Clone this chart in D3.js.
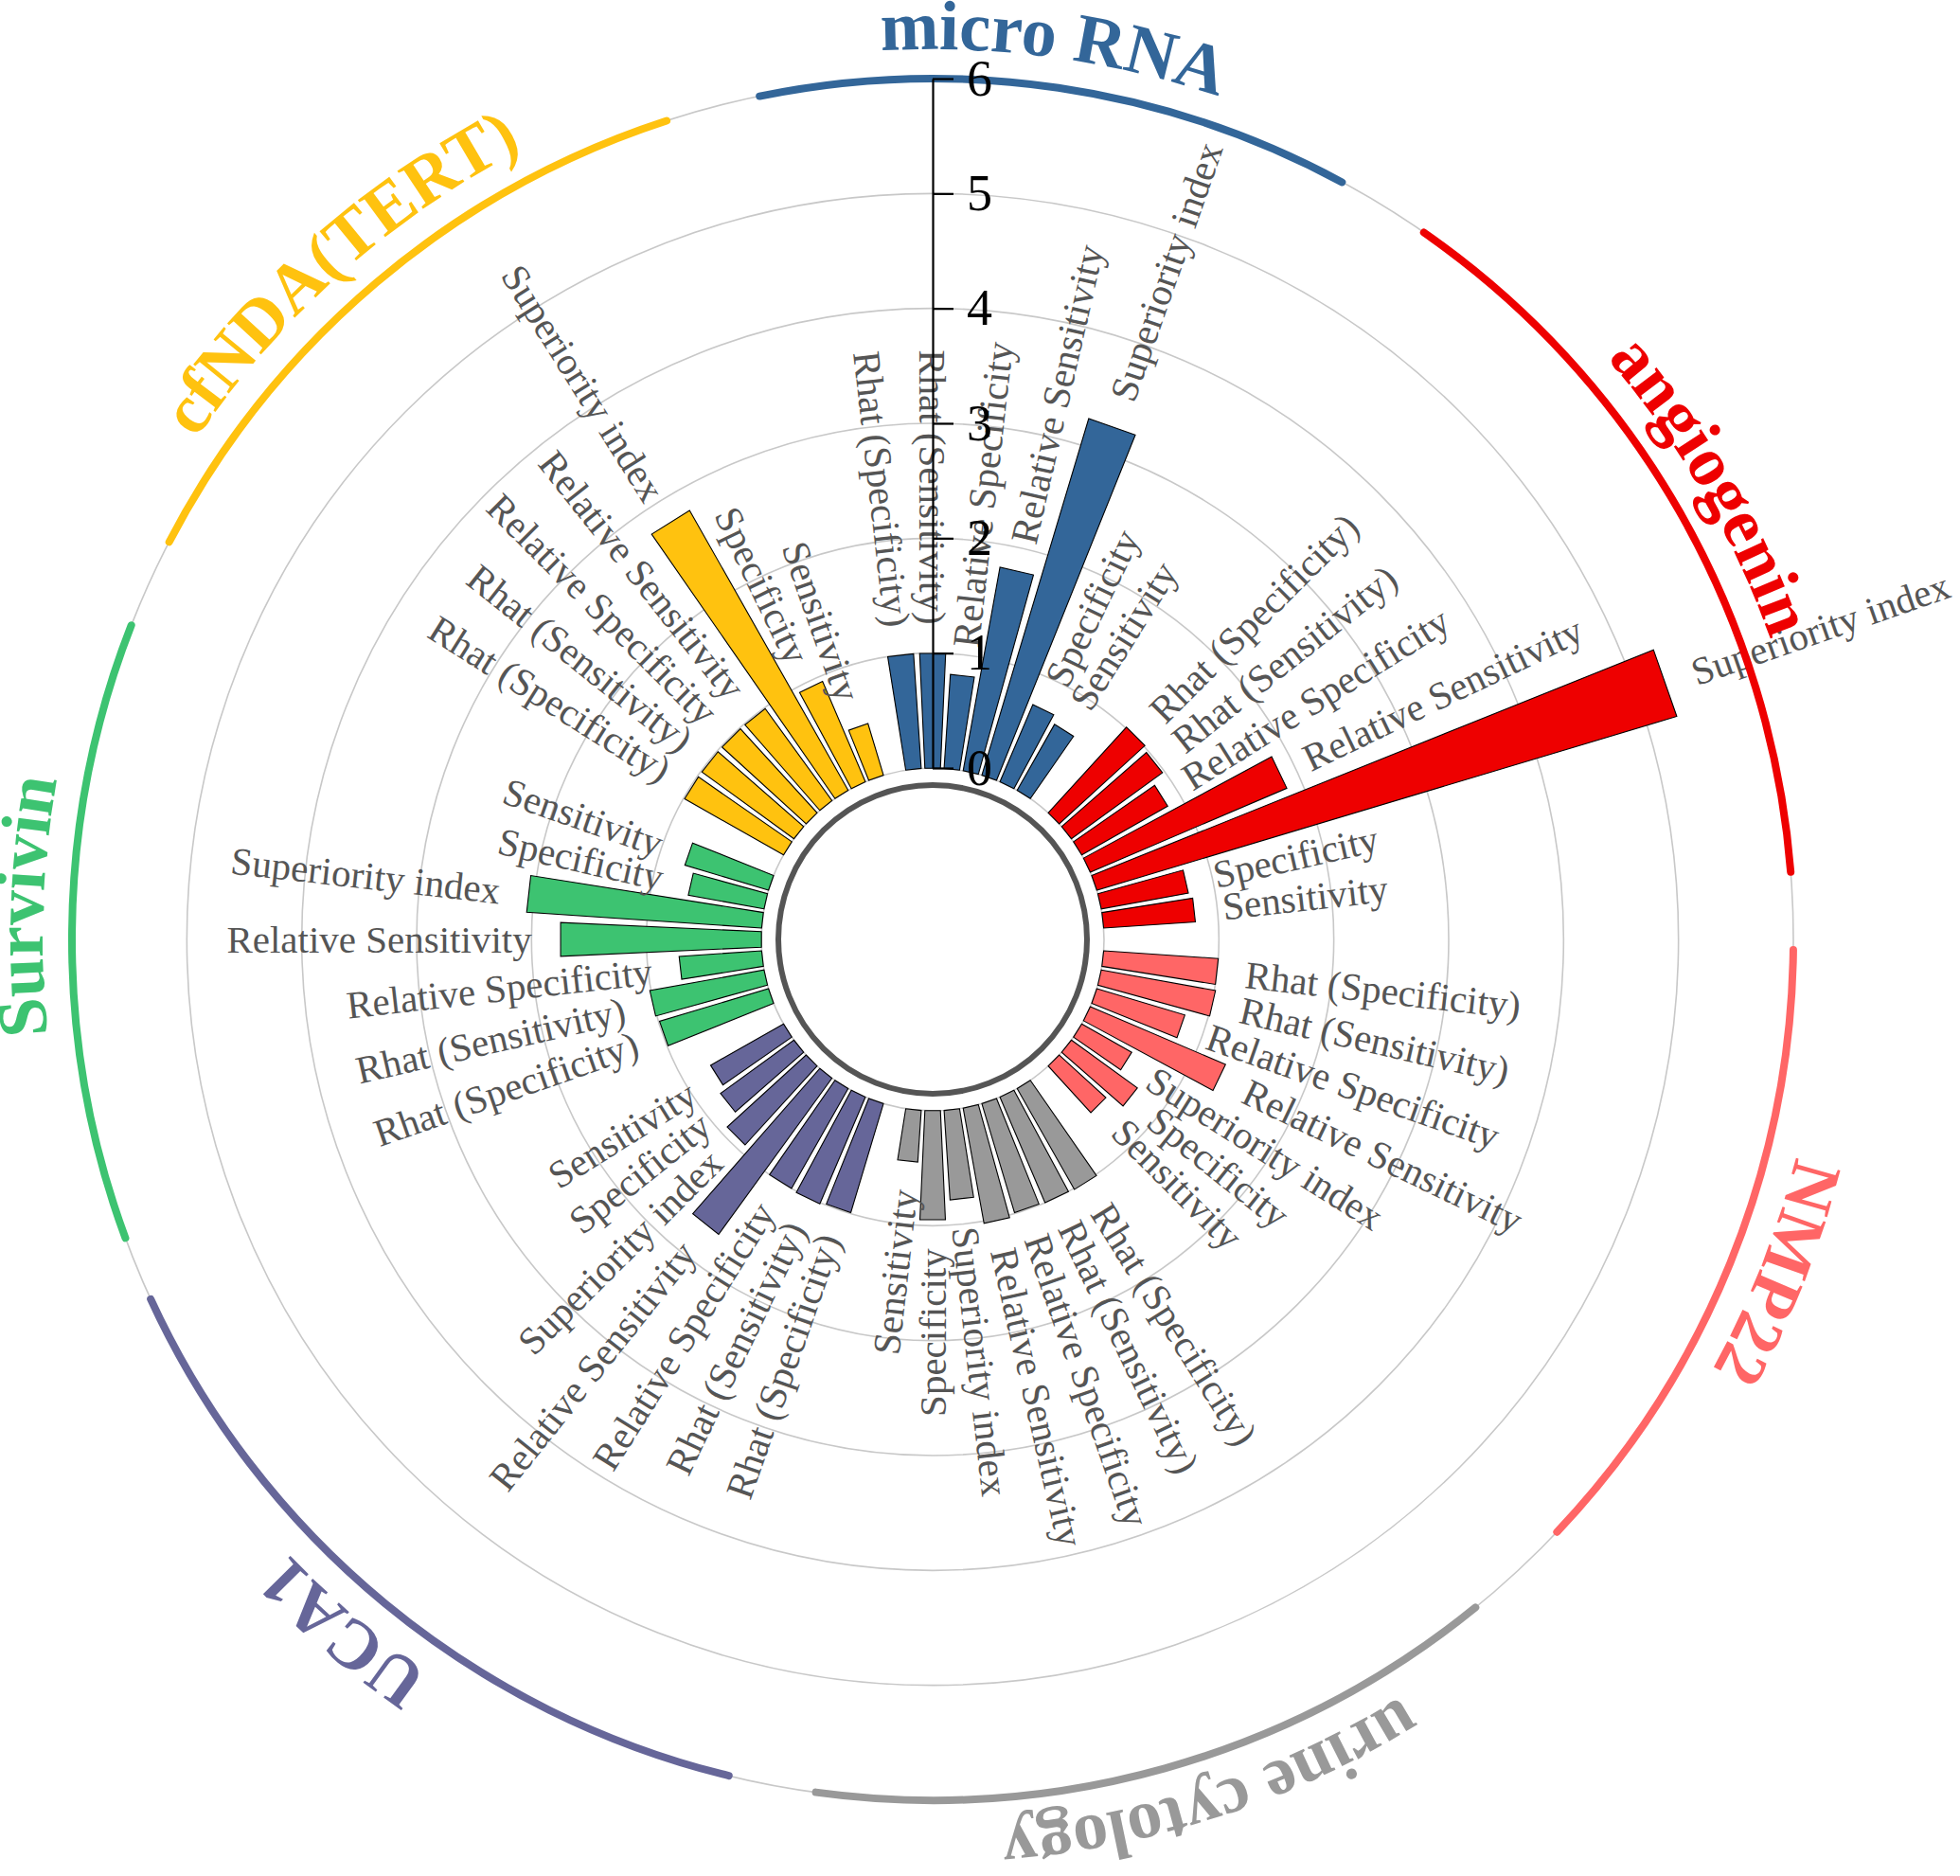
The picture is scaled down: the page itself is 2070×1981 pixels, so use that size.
<!DOCTYPE html>
<html>
<head>
<meta charset="utf-8">
<script src="https://cdn.jsdelivr.net/npm/d3@7"></script>
<style>
  html, body { margin: 0; padding: 0; background: #ffffff; }
  svg { display: block; }
</style>
</head>
<body>
<div id="chart"></div>
<script>
// ---------------- DATA ----------------
const groups = ["micro RNA", "angiogenin", "NMP22", "urine cytology", "UCA1", "Survivin", "cfNDA(TERT)"];
const categories = ["Rhat (Specificity)", "Rhat (Sensitivity)", "Relative Specificity", "Relative Sensitivity", "Superiority index", "Specificity", "Sensitivity"];

const microRNA      = [1.00, 1.00, 0.82, 1.80, 3.24, 0.73, 0.66];
const angiogenin    = [1.01, 0.98, 0.86, 1.86, 5.27, 0.77, 0.80];
const NMP22         = [1.00, 1.01, 0.80, 1.28, 0.50, 0.71, 0.55];
const urineCytology = [1.01, 1.00, 0.99, 1.02, 0.78, 0.95, 0.45];
const UCA1          = [0.99, 1.01, 1.00, 1.68, 0.93, 0.79, 0.73];
const Survivin      = [0.99, 1.01, 0.72, 1.75, 2.05, 0.67, 0.76];
const cfNDA_TERT    = [0.99, 0.99, 0.99, 0.99, 2.80, 0.95, 0.47];

const tickValues = [0, 1, 2, 3, 4, 5, 6];
const tickLabels = ["0", "1", "2", "3", "4", "5", "6"];

// ---------------- STYLE / LAYOUT ----------------
const groupColors = ["#336699", "#EE0000", "#FF6666", "#999999", "#666699", "#3DC371", "#FFC20F"];
// group arc extents and title centre angles (degrees clockwise from 12 o'clock)
const arcStart   = [-11.6, 34.8, 90.7, 140.9, 193.7, 249.7, 297.5];
const arcEnd     = [28.4, 85.5, 133.5, 187.8, 245.3, 291.4, 342.0];
const titleAngle = [7.7, 59.8, 111.5, 161.9, 220.4, 272.1, 318.4];

const W = 2070, H = 1981, cx = 985, cy = 992;
const SERIF = "'Liberation Serif', 'Times New Roman', Times, serif";

const values = [microRNA, angiogenin, NMP22, urineCytology, UCA1, Survivin, cfNDA_TERT];

const svg = d3.select("#chart").append("svg")
  .attr("width", W).attr("height", H)
  .attr("viewBox", `0 0 ${W} ${H}`);
svg.append("rect").attr("width", W).attr("height", H).attr("fill", "#fff");

const g = svg.append("g").attr("transform", `translate(${cx},${cy})`);

const r = d3.scaleLinear().domain([0, 6]).range([181, 909]);

// slots: 7 bars + 1 empty per group
const slots = [];
groups.forEach((grp, gi) => {
  categories.forEach((c, ci) => slots.push({ id: gi + "-" + ci, gi, cat: c, value: values[gi][ci] }));
  slots.push({ id: "gap" + gi, gap: true });
});
const step = 360 / slots.length;
const ang = d3.scaleBand()
  .domain(slots.map(d => d.id))
  .range([-1.5 * step, 360 - 1.5 * step])
  .paddingInner(0.19)
  .paddingOuter(0.095);

const rad = deg => deg * Math.PI / 180;

// gridlines
g.append("g").selectAll("circle.grid")
  .data(tickValues).join("circle")
  .attr("class", "grid")
  .attr("r", d => r(d))
  .attr("fill", "none")
  .attr("stroke", "#c8c8c8")
  .attr("stroke-width", 1.6);

// inner ring
g.append("circle")
  .attr("r", r(0) - 18)
  .attr("fill", "none")
  .attr("stroke", "#555555")
  .attr("stroke-width", 6);

// bars
const bars = slots.filter(d => !d.gap);
const line = d3.line();
g.append("g").selectAll("path.bar")
  .data(bars).join("path")
  .attr("class", "bar")
  .attr("d", d => {
    const a0 = rad(ang(d.id)), a1 = rad(ang(d.id) + ang.bandwidth());
    return line([
      d3.pointRadial(a0, r(0)),
      d3.pointRadial(a0, r(d.value)),
      d3.pointRadial(a1, r(d.value)),
      d3.pointRadial(a1, r(0))
    ]) + "Z";
  })
  .attr("fill", d => groupColors[d.gi])
  .attr("stroke", "#000")
  .attr("stroke-width", 1.1)
  .attr("stroke-linejoin", "miter");

// bar labels
g.append("g").selectAll("text.lbl")
  .data(bars).join("text")
  .attr("class", "lbl")
  .attr("transform", d => {
    const th = ang(d.id) + ang.bandwidth() / 2;
    let t = th <= 0 ? th + 360 : th;
    const flip = t >= 180;
    const p = d3.pointRadial(rad(th), r(d.value) + 30);
    return `translate(${p[0]},${p[1]}) rotate(${flip ? t + 90 : t - 90})`;
  })
  .attr("text-anchor", d => {
    const th = ang(d.id) + ang.bandwidth() / 2;
    let t = th <= 0 ? th + 360 : th;
    return t >= 180 ? "end" : "start";
  })
  .attr("dominant-baseline", "central")
  .attr("font-family", SERIF)
  .attr("font-size", 41)
  .attr("fill", "#555555")
  .text(d => d.cat);

// group arcs
g.append("g").selectAll("path.garc")
  .data(groups).join("path")
  .attr("class", "garc")
  .attr("d", (d, i) => {
    const p = d3.path();
    p.arc(0, 0, r(6), rad(arcStart[i]) - Math.PI / 2, rad(arcEnd[i]) - Math.PI / 2, false);
    return p.toString();
  })
  .attr("fill", "none")
  .attr("stroke", (d, i) => groupColors[i])
  .attr("stroke-width", 8)
  .attr("stroke-linecap", "round");

// group titles along a clockwise circular path
const defs = svg.append("defs");
const titleR = 940;
groups.forEach((grp, i) => {
  const p = d3.path();
  const a0 = rad(titleAngle[i] - 90) - Math.PI / 2;
  const a1 = rad(titleAngle[i] + 90) - Math.PI / 2;
  p.arc(0, 0, titleR, a0, a1, false);
  defs.append("path").attr("id", "tp" + i).attr("d", p.toString());
});
g.append("g").selectAll("text.title")
  .data(groups).join("text")
  .attr("class", "title")
  .attr("font-family", SERIF)
  .attr("font-weight", "bold")
  .attr("font-size", 74)
  .attr("fill", (d, i) => groupColors[i])
  .append("textPath")
  .attr("href", (d, i) => "#tp" + i)
  .attr("startOffset", "50%")
  .attr("text-anchor", "middle")
  .text(d => d);

// radial axis
const yAxis = d3.scaleLinear().domain([0, 6]).range([-r(0), -r(6)]);
const axG = g.append("g")
  .call(d3.axisRight(yAxis)
    .tickValues(tickValues)
    .tickFormat((d, i) => tickLabels[i])
    .tickSize(22)
    .tickSizeOuter(0)
    .tickPadding(14));
axG.select(".domain").attr("stroke", "#000").attr("stroke-width", 2.2);
axG.selectAll(".tick line").attr("stroke", "#000").attr("stroke-width", 2.2);
axG.selectAll(".tick text")
  .attr("font-family", SERIF)
  .attr("font-size", 54)
  .attr("fill", "#000");
</script>
</body>
</html>
